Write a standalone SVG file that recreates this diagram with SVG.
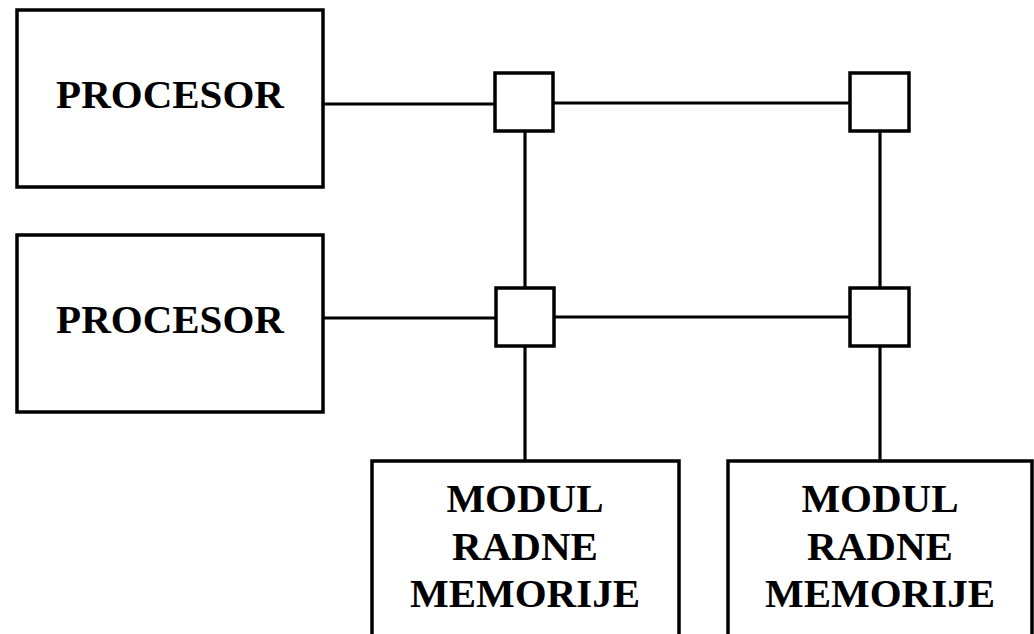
<svg xmlns="http://www.w3.org/2000/svg" width="1034" height="634" viewBox="0 0 1034 634">
<style>
.box{fill:#fff;stroke:#000;stroke-width:3.5}
.sw{fill:#fff;stroke:#000;stroke-width:3.5}
.ln{stroke:#000;stroke-width:3.2;fill:none}
.t{font-family:"Liberation Serif","Times New Roman",serif;font-weight:bold;font-size:41px;fill:#000;text-anchor:middle}
</style>
<rect width="1034" height="634" fill="#fff"/>
<g id="connectors">
<line class="ln" x1="323" y1="104" x2="495" y2="104"/>
<line class="ln" x1="553" y1="103" x2="850" y2="103"/>
<line class="ln" x1="525" y1="131" x2="525" y2="288"/>
<line class="ln" x1="880" y1="131" x2="880" y2="288"/>
<line class="ln" x1="323" y1="318" x2="496" y2="318"/>
<line class="ln" x1="554" y1="317" x2="850" y2="317"/>
<line class="ln" x1="525" y1="346" x2="525" y2="461"/>
<line class="ln" x1="880" y1="346" x2="880" y2="461"/>
</g>
<g id="procesor1">
<rect class="box" x="17" y="10" width="306" height="177"/>
<text class="t" x="170" y="108">PROCESOR</text>
</g>
<g id="procesor2">
<rect class="box" x="17" y="235" width="306" height="177"/>
<text class="t" x="170" y="333">PROCESOR</text>
</g>
<g id="switch1"><rect class="sw" x="495" y="73" width="58" height="58"/></g>
<g id="switch2"><rect class="sw" x="850" y="73" width="59" height="58"/></g>
<g id="switch3"><rect class="sw" x="496" y="288" width="58" height="58"/></g>
<g id="switch4"><rect class="sw" x="850" y="288" width="59" height="58"/></g>
<g id="memorija1">
<rect class="box" x="372" y="461" width="307" height="200"/>
<text class="t" x="525" y="512">MODUL</text>
<text class="t" x="525" y="560">RADNE</text>
<text class="t" x="525" y="607">MEMORIJE</text>
</g>
<g id="memorija2">
<rect class="box" x="728" y="461" width="304" height="200"/>
<text class="t" x="880" y="512">MODUL</text>
<text class="t" x="880" y="560">RADNE</text>
<text class="t" x="880" y="607">MEMORIJE</text>
</g>
</svg>
